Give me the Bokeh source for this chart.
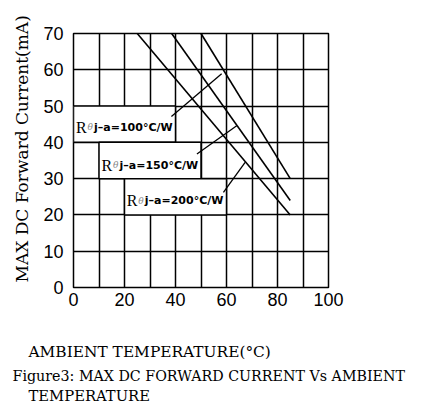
from bokeh.plotting import figure
from bokeh.models import Range1d, FixedTicker, Title, ColumnDataSource
from bokeh.core.properties import value
from bokeh.embed import file_html
from bokeh.resources import INLINE

# ---- data ----
x_ticks = [0, 20, 40, 60, 80, 100]
y_ticks = [0, 10, 20, 30, 40, 50, 60, 70]
grid_x = [0, 10, 20, 30, 40, 50, 60, 70, 80, 90, 100]

temp_100 = [50, 85]
curr_100 = [70, 30]
temp_150 = [38.5, 85]
curr_150 = [70, 24]
temp_200 = [25, 85]
curr_200 = [70, 20]

labels_rth = ["100", "150", "200"]
label_x = [1.0, 11.0, 20.9]
label_y = [44.1, 33.7, 23.9]
box_left = [0, 10, 20]
box_right = [40, 50, 60]
box_bottom = [40, 30, 20]
box_top = [50, 40, 30]
leader_x = [[38.4, 58.1], [48.4, 64.0], [58.8, 67.3]]
leader_y = [[47.1, 58.9], [36.8, 44.6], [26.2, 34.5]]

y_title = "MAX DC Forward Current(mA)"
x_title = "AMBIENT TEMPERATURE(\u00b0C)"
caption_1 = "Figure3: MAX DC FORWARD CURRENT Vs AMBIENT"
caption_2 = "TEMPERATURE"

p = figure(width=422, height=404, output_backend="svg", toolbar_location=None,
           x_range=Range1d(0, 100), y_range=Range1d(0, 70),
           min_border_left=73, min_border_right=94, min_border_top=33, min_border_bottom=117)
p.background_fill_color = "white"
p.border_fill_color = "white"
p.outline_line_color = "black"
p.outline_line_width = 1.5

for ax in (p.xaxis[0], p.yaxis[0]):
    ax.axis_line_color = None
    ax.major_tick_line_color = None
    ax.minor_tick_line_color = None
    ax.major_tick_out = 0
    ax.major_tick_in = 0
    ax.minor_tick_out = 0
    ax.minor_tick_in = 0
    ax.major_label_text_font = "Liberation Sans"
    ax.major_label_text_font_size = "18px"
    ax.major_label_text_color = "black"
p.xaxis.ticker = FixedTicker(ticks=x_ticks)
p.yaxis.ticker = FixedTicker(ticks=y_ticks)
p.xaxis.major_label_standoff = 5
p.yaxis.major_label_standoff = 10

p.xgrid.ticker = FixedTicker(ticks=grid_x)
p.ygrid.ticker = FixedTicker(ticks=y_ticks)
for g in (p.xgrid[0], p.ygrid[0]):
    g.grid_line_color = "black"
    g.grid_line_width = 1.5
    g.grid_line_alpha = 1.0

# label boxes (hide inner grid lines)
p.quad(left=box_left, right=box_right, bottom=box_bottom, top=box_top,
       fill_color="white", line_color="black", line_width=1.5)

# curves
for xs, ys in ((temp_100, curr_100), (temp_150, curr_150), (temp_200, curr_200)):
    p.line(xs, ys, line_color="black", line_width=1.6)

# leaders
p.multi_line(leader_x, leader_y, line_color="black", line_width=1.3)

src = ColumnDataSource(dict(x=label_x, y=label_y,
                            r=["R"] * 3, th=["\u03b8"] * 3,
                            rest=["j\u2013a=%s\u00b0C/W" % v for v in labels_rth]))
p.text(x="x", y="y", text="r", source=src, text_font=value("Liberation Serif"),
       text_font_size="16px", text_baseline="alphabetic", text_align="left", text_color="black")
p.text(x="x", y="y", text="th", source=src, text_font=value("DejaVu Serif"),
       text_font_style="italic", text_font_size="9px", x_offset=11.5,
       text_baseline="alphabetic", text_align="left", text_color="#888888")
p.text(x="x", y="y", text="rest", source=src, text_font=value("DejaVu Sans"),
       text_font_style="bold", text_font_size="11px", x_offset=18,
       text_baseline="alphabetic", text_align="left", text_color="black")

# y-axis title (left panel)
p.add_layout(Title(text=y_title, align="left", offset=5, vertical_align="middle",
                   standoff=15, text_font="DejaVu Serif", text_font_size="17px",
                   text_font_style="normal", text_color="black"), "left")

# bottom titles: spacer, x title, caption lines
p.add_layout(Title(text=" ", text_font_size="1px", standoff=25), "below")
p.add_layout(Title(text=x_title, align="left", offset=-45, vertical_align="bottom",
                   standoff=8, text_font="DejaVu Serif", text_font_size="15.4px",
                   text_font_style="normal", text_color="black"), "below")
p.add_layout(Title(text=caption_1, align="left", offset=-61, vertical_align="bottom",
                   standoff=2, text_font="DejaVu Serif", text_font_size="14.25px",
                   text_font_style="normal", text_color="black"), "below")
p.add_layout(Title(text=caption_2, align="left", offset=-45, vertical_align="bottom",
                   standoff=0, text_font="DejaVu Serif", text_font_size="14.75px",
                   text_font_style="normal", text_color="black"), "below")

open("out.html", "w").write(file_html(p, INLINE))
